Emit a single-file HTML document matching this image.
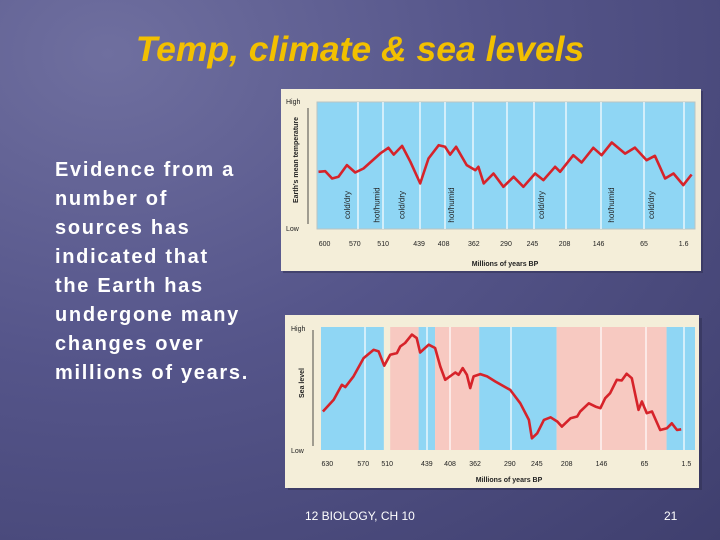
<!DOCTYPE html>
<html><head><meta charset="utf-8"><style>
body{margin:0;width:720px;height:540px;overflow:hidden;font-family:"Liberation Sans",sans-serif}
#slide{position:relative;width:720px;height:540px;background:radial-gradient(ellipse at 15% 10%,#6f6f9f 0%,#55558a 45%,#3f3f6e 100%)}
#title{position:absolute;left:0;width:720px;top:29px;text-align:center;color:#f2c000;font-size:35.5px;font-style:italic;font-weight:bold;white-space:nowrap}
#body{position:absolute;left:55px;top:156px;color:#fff;font-size:20px;line-height:29px;letter-spacing:1.7px;font-weight:bold;white-space:nowrap}
.foot{position:absolute;top:509px;color:#fff;font-size:12px}
svg{position:absolute;left:0;top:0}
</style></head><body>
<div id="slide">
<div id="title">Temp, climate &amp; sea levels</div>
<div id="body">Evidence from a<br>number of<br>sources has<br>indicated that<br>the Earth has<br>undergone many<br>changes over<br>millions of years.</div>
<div class="foot" style="left:305px">12 BIOLOGY, CH 10</div>
<div class="foot" style="left:664px">21</div>
<svg id="chart" width="720" height="540"></svg>
</div>
<script>
const tempTicks=["600","570","510","439","408","362","290","245","208","146","65","1.6"];
const tempTickPos=[2,10,17.5,27,33.5,41.5,50,57,65.5,74.5,86.5,97];
const tempX=[0.4,2.2,4,5.7,7.9,10.1,12.3,16.7,18.9,20.3,22.5,24.7,27.3,29.5,32.2,33.9,35.2,36.8,39.6,41.9,42.7,44.1,46.7,49.3,52,54.6,57.7,59.9,63,64.3,67.8,70,73.1,75.3,78,81.5,84.1,87.2,89.4,92.1,94.3,96.9,99.1];
const tempY=[45,45.5,39.8,41.1,50.3,44.5,47.6,59.4,63.9,58.6,65.4,52.9,35.9,55.5,66,64.7,58.6,64.7,50.3,46.3,49,35.9,43.7,33.2,41.1,33.2,43.7,38.5,49,45,58.1,52.4,63.9,58.1,68.1,59.4,64.1,54.2,57.6,39.8,43.7,34.6,42.9];
const climateLabels=["cold/dry","hot/humid","cold/dry","hot/humid","cold/dry","hot/humid","cold/dry"];
const climatePos=[8,15.7,22.3,35.5,59.3,77.8,88.4];
const seaTicks=["630","570","510","439","408","362","290","245","208","146","65","1.5"];
const seaTickPos=[1.7,11.3,17.7,28.3,34.5,41.2,50.5,57.7,65.7,75,86.5,97.7];
const seaBands=[["b",0,16.8],["p",18.5,26.1],["b",26.1,30.5],["p",30.5,42.3],["b",42.3,63],["p",63,92.4],["b",92.4,100]];
const seaX=[0.5,3.4,5.6,6.5,8.7,11.4,14.1,15.4,16.9,18.5,20.3,21.2,22.5,24.3,25.6,26.5,28.8,30.5,31.9,33.2,35.9,36.8,37.9,39,39.9,40.8,42.6,44.4,46.6,50.6,53.3,55.6,56.4,57.8,59.6,61.4,63.2,64.4,66.7,68.5,69.3,71.6,73.4,74.7,76,77.3,79.1,80.4,81.7,83.1,84.9,85.8,87.1,88.5,90.7,92.5,93.8,95.2,96.3];
const seaY=[31.3,40.8,53,51.1,59.8,74.7,81.5,80.2,68.5,77.4,78.8,84.2,87,93.8,91,79.3,85.6,82.9,67.9,57.1,63,61.1,66.6,61.1,50.3,59.8,61.7,59.8,55.7,48.9,38,24.5,9.5,13.6,24.5,26.6,23.1,19,25.8,27.2,31.3,38,35.3,34,42.1,46.2,57.1,56.5,62,58.4,32.6,39.4,29.9,31.3,16.3,17.7,21.7,16.3,16.8];

const svg=document.getElementById('chart');const NS="http://www.w3.org/2000/svg";
function mk(t,a,txt){const e=document.createElementNS(NS,t);for(const k in a)e.setAttribute(k,a[k]);if(txt!==undefined)e.textContent=txt;svg.appendChild(e);return e;}
function scale(d0,d1,r0,r1){return v=>r0+(v-d0)/(d1-d0)*(r1-r0);}
function path(xs,ys,sx,sy){return xs.map((x,i)=>(i?'L':'M')+sx(x).toFixed(1)+' '+sy(ys[i]).toFixed(1)).join(' ');}
const F="Liberation Sans, sans-serif";

// ---------- top chart ----------
let e=mk('rect',{x:283,y:91,width:420,height:182,fill:'#2e2e50',opacity:0.5});

e=mk('rect',{x:281,y:89,width:420,height:182,fill:'#f4eed9'});

const tx=scale(0,100,317,695),ty=scale(0,100,229,102);
e=mk('rect',{x:317,y:102,width:378,height:127,fill:'#8fd6f4',stroke:'#b9c4c4','stroke-width':1});

[358,383,420,445,473,507,534,566,601,644,684].forEach(x=>{const l=mk('line',{x1:x,x2:x,y1:102,y2:229,stroke:'#fff','stroke-width':1.2});
});
climateLabels.forEach((s,i)=>{const x=tx(climatePos[i]);const t=mk('text',{x:0,y:0,transform:`translate(${x+3},205) rotate(-90)`,'text-anchor':'middle','font-size':8,'font-family':F,fill:'#222'},s);
});
e=mk('path',{d:path(tempX,tempY,tx,ty),fill:'none',stroke:'#d6232a','stroke-width':2.6,'stroke-linejoin':'round'});

tempTicks.forEach((s,i)=>{const t=mk('text',{x:tx(tempTickPos[i]),y:246,'text-anchor':'middle','font-size':7,'font-family':F,fill:'#222'},s);
});
e=mk('text',{x:505,y:266,'text-anchor':'middle','font-size':7,'font-weight':'bold','font-family':F,fill:'#222'},'Millions of years BP');

e=mk('line',{x1:308,x2:308,y1:108,y2:224,stroke:'#222','stroke-width':0.8});

e=mk('text',{x:286,y:104,'font-size':7,'font-family':F,fill:'#222'},'High');
e=mk('text',{x:286,y:231,'font-size':7,'font-family':F,fill:'#222'},'Low');
e=mk('text',{x:0,y:0,transform:'translate(298,160) rotate(-90)','text-anchor':'middle','font-size':7,'font-weight':'bold','font-family':F,fill:'#222'},"Earth's mean temperature");


// ---------- bottom chart ----------
e=mk('rect',{x:288,y:318,width:414,height:172,fill:'#2e2e50',opacity:0.5});

e=mk('rect',{x:285,y:315,width:414,height:173,fill:'#f4eed9'});

const sx=scale(0,100,321,695),sy=scale(0,100,450,327);
seaBands.forEach(b=>{const r=mk('rect',{x:sx(b[1]),y:327,width:sx(b[2])-sx(b[1]),height:123,fill:b[0]=='b'?'#8fd6f4':'#f7c9c1'});
});
[365,427,450,511,601,646,684].forEach(x=>{const l=mk('line',{x1:x,x2:x,y1:327,y2:450,stroke:'#fff','stroke-width':1.2});
});
e=mk('path',{d:path(seaX,seaY,sx,sy),fill:'none',stroke:'#d6232a','stroke-width':2.6,'stroke-linejoin':'round'});

seaTicks.forEach((s,i)=>{const t=mk('text',{x:sx(seaTickPos[i]),y:466,'text-anchor':'middle','font-size':7,'font-family':F,fill:'#222'},s);
});
e=mk('text',{x:509,y:482,'text-anchor':'middle','font-size':7,'font-weight':'bold','font-family':F,fill:'#222'},'Millions of years BP');

e=mk('line',{x1:313,x2:313,y1:330,y2:446,stroke:'#222','stroke-width':0.8});

e=mk('text',{x:291,y:331,'font-size':7,'font-family':F,fill:'#222'},'High');
e=mk('text',{x:291,y:453,'font-size':7,'font-family':F,fill:'#222'},'Low');
e=mk('text',{x:0,y:0,transform:'translate(304,383) rotate(-90)','text-anchor':'middle','font-size':7,'font-weight':'bold','font-family':F,fill:'#222'},'Sea level');

</script>
</body></html>
